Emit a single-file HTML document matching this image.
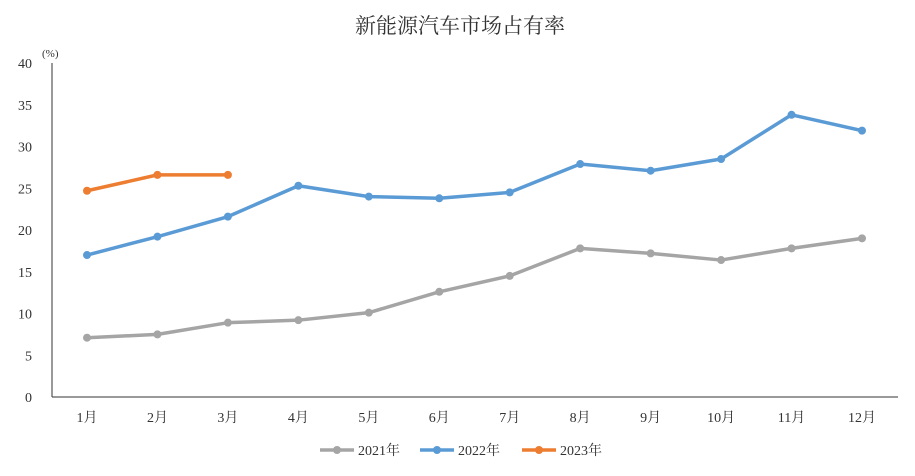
<!DOCTYPE html>
<html><head><meta charset="utf-8"><style>
body{margin:0;background:#fff;}
svg{display:block;font-family:"Liberation Serif","Noto Serif CJK SC",serif;}
</style></head><body>
<svg id="chart" width="915" height="476">
<text x="460" y="33" text-anchor="middle" font-size="21" fill="#333" font-family="'Noto Serif CJK SC',serif">新能源汽车市场占有率</text>
<text x="42" y="57" font-size="11" fill="#333">(%)</text>
<g id="axes"></g><g id="series"></g><g id="legend"></g>
</svg>
<script>
const categories=["1月","2月","3月","4月","5月","6月","7月","8月","9月","10月","11月","12月"];
const yTicks=[0,5,10,15,20,25,30,35,40];
const s2021=[7.1,7.5,8.9,9.2,10.1,12.6,14.5,17.8,17.2,16.4,17.8,19.0];
const s2022=[17.0,19.2,21.6,25.3,24.0,23.8,24.5,27.9,27.1,28.5,33.8,31.9];
const s2023=[24.7,26.6,26.6];
const seriesNames=["2021年","2022年","2023年"];
const colors=["#a5a5a5","#5b9bd5","#ed7d31"];
const NS="http://www.w3.org/2000/svg";
const x0=87,xStep=(862-87)/11,yBase=397,yTop=63;
function xs(i){return x0+i*xStep;}
function ys(v){return yBase-(v/40)*(yBase-yTop);}
function mk(t,a,p){const e=document.createElementNS(NS,t);for(const k in a)e.setAttribute(k,a[k]);p.appendChild(e);return e;}
const axes=document.getElementById('axes');
const yl=mk('line',{x1:52,y1:yTop,x2:52,y2:yBase,stroke:'#333','stroke-width':1},axes);


const xl=mk('line',{x1:52,y1:yBase,x2:898,y2:yBase,stroke:'#333','stroke-width':1},axes);


yTicks.forEach(t=>{
 const e=mk('text',{x:32,y:ys(t)+5,'text-anchor':'end','font-size':14,fill:'#333'},axes);
 e.textContent=t;
 
 
});
categories.forEach((c,i)=>{
 const e=mk('text',{x:xs(i),y:422,'text-anchor':'middle','font-size':14,fill:'#333'},axes);
 e.textContent=c;
 
 
});
const sg=document.getElementById('series');
[s2021,s2022,s2023].forEach((d,si)=>{
 const pts=d.map((v,i)=>xs(i)+','+ys(v)).join(' ');
 const pl=mk('polyline',{points:pts,fill:'none',stroke:colors[si],'stroke-width':3.5,'stroke-linejoin':'round','stroke-linecap':'round'},sg);
 
 
 d.forEach((v,i)=>{
  const c=mk('circle',{cx:xs(i),cy:ys(v),r:4,fill:colors[si]},sg);
  
  
 });
});
const lg=document.getElementById('legend');
const lx=[320,420,522];
seriesNames.forEach((n,i)=>{
 const g=mk('g',{},lg);
 
 
 mk('line',{x1:lx[i],y1:450,x2:lx[i]+34,y2:450,stroke:colors[i],'stroke-width':3.5},g);
 mk('circle',{cx:lx[i]+17,cy:450,r:4,fill:colors[i]},g);
 const t=mk('text',{x:lx[i]+38,y:455,'font-size':14,fill:'#333'},g);
 t.textContent=n;
});
</script>
</body></html>
